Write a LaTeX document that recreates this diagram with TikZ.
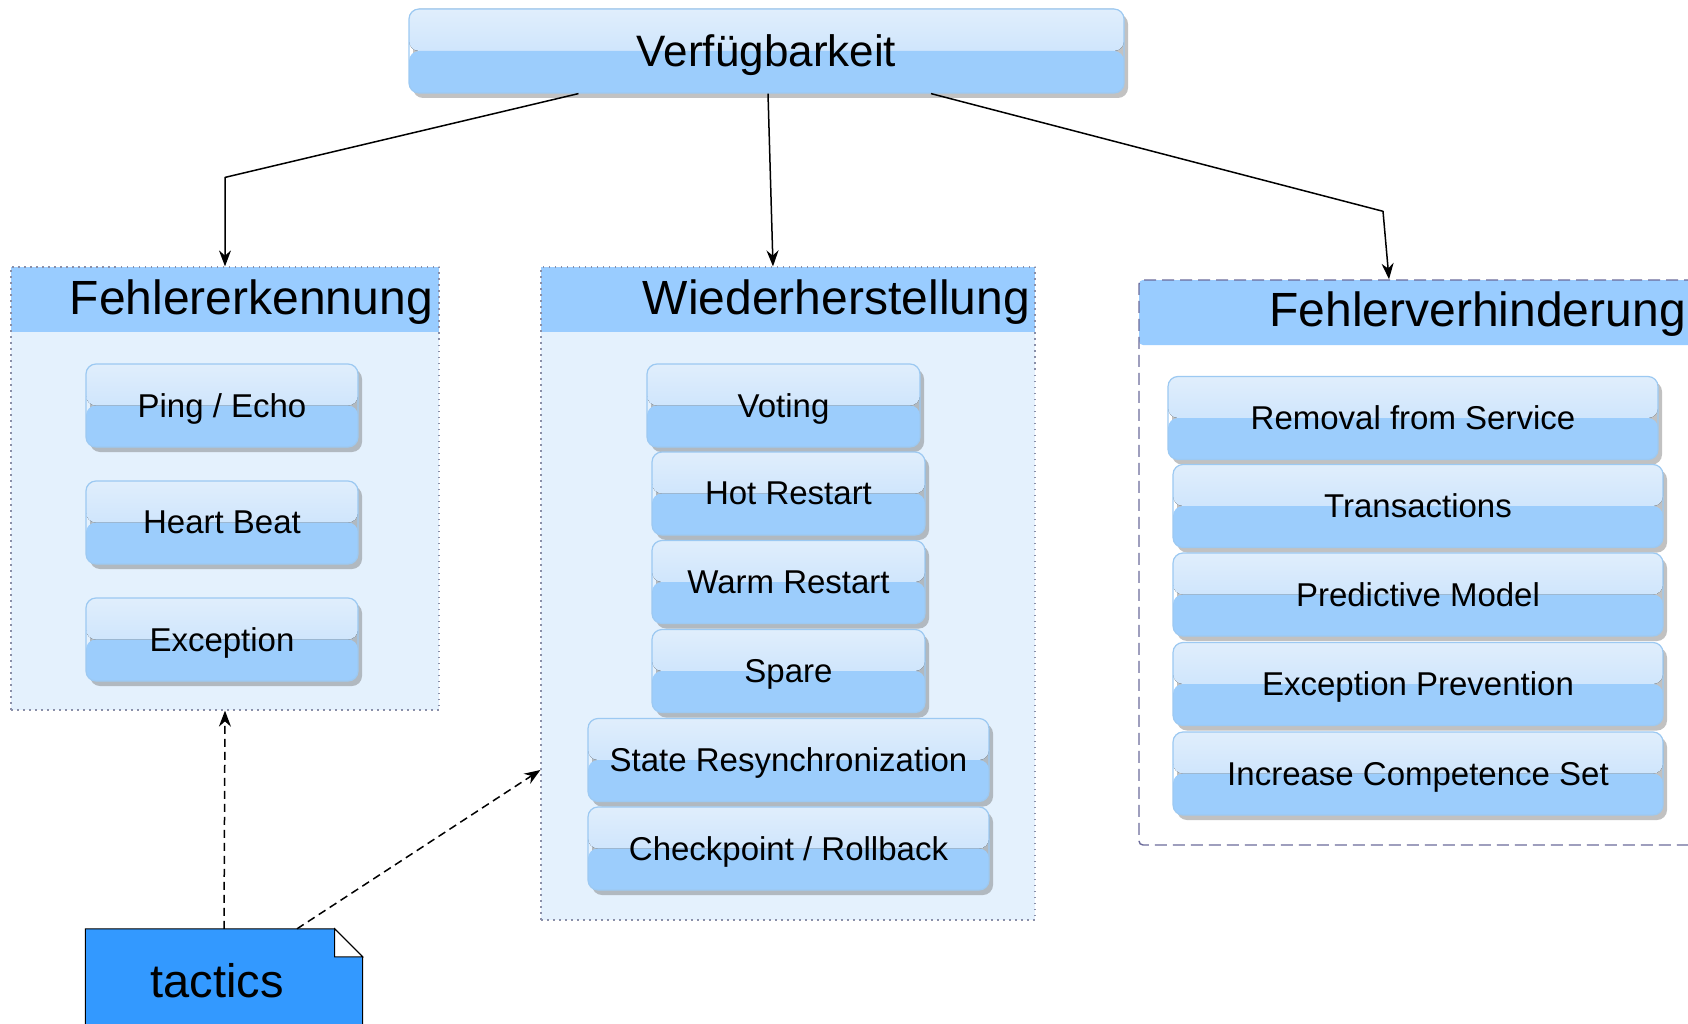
\documentclass[tikz,border=0pt]{standalone}
\usepackage{fontspec}
\setmainfont{Liberation Sans}
\usetikzlibrary{arrows.meta}
\usetikzlibrary{shadows}
\usetikzlibrary{backgrounds}

\definecolor{glosstop}{HTML}{E0EEFC}
\definecolor{glossmid}{HTML}{BFDDFB}
\definecolor{glosslow}{HTML}{9CCDFC}
\definecolor{glossline}{HTML}{9CC9F2}
\definecolor{headblue}{HTML}{99CCFF}
\definecolor{groupfill}{HTML}{E4F1FD}
\definecolor{groupline}{HTML}{8A8FA8}
\definecolor{dashline}{HTML}{6B6B9B}
\definecolor{noteblue}{HTML}{3399FF}

\tikzset{
	tactic/.style={rectangle, rounded corners=10pt, draw=glossline, line width=1.2pt,
		minimum width=273pt, minimum height=83pt, text depth=0pt, font=\fontsize{33}{40}\selectfont,
		drop shadow={shadow xshift=4pt, shadow yshift=-5pt, fill=black!60, opacity=.4},
		path picture={
			\fill[top color=glosstop, bottom color=glossmid] (path picture bounding box.north west) rectangle (path picture bounding box.east);
			\fill[glosslow] (path picture bounding box.west) rectangle (path picture bounding box.south east);
		}},
	groupbox/.style={rectangle, fill=groupfill, draw=groupline, line width=1.2pt, dash pattern=on 1.5pt off 4.5pt,
		path picture={\fill[headblue] (path picture bounding box.north west) rectangle ([yshift=-65pt]path picture bounding box.north east);}},
	grouptitle/.style={anchor=east, inner sep=0pt, font=\fontsize{48}{56}\selectfont}
}

\begin{document}
\begin{tikzpicture}[line join=round,>={Stealth[length=16pt,width=12pt]},x=1pt,y=-1pt]

		\useasboundingbox (0,0) rectangle (1688,1024);

		% pääsolmu
		\node[tactic, minimum width=715pt, minimum height=84pt, font=\fontsize{44}{52}\selectfont] (avail) at (766.5,51) {Verfügbarkeit};

		% ryhmät ja otsikot
		\node[groupbox, minimum width=428pt, minimum height=443pt] (detect) at (225,488.5) {};
		\node[grouptitle] (detecttitle) at (433,302) {Fehlererkennung};

		\node[groupbox, minimum width=494pt, minimum height=653pt] (recover) at (788,593.5) {};
		\node[grouptitle] (recovertitle) at (1030,302) {Wiederherstellung};

		\node[groupbox, fill=white, draw=dashline, line width=1.4pt, dash pattern=on 12pt off 6pt, rounded corners=4pt,
			minimum width=561pt, minimum height=565pt] (prevent) at (1419.5,562.5) {};
		\node[grouptitle] (preventtitle) at (1686,314) {Fehlerverhinderung};

		% taktiikat
		\foreach \t [count=\i] in {Ping / Echo, Heart Beat, Exception}
		{
		\node[tactic, minimum width=272pt] (det\i) at (222,288.5+117*\i) {\t};
		}

		\node[tactic] (voting) at (783.5,405.5) {Voting};
		\node[tactic] (hot) at (788.5,493.5) {Hot Restart};
		\node[tactic] (warm) at (788.5,582) {Warm Restart};
		\node[tactic] (spare) at (788.5,671) {Spare};
		\node[tactic, minimum width=401pt] (resync) at (788.5,760) {State Resynchronization};
		\node[tactic, minimum width=401pt] (rollback) at (788.5,848.5) {Checkpoint / Rollback};

		\node[tactic, minimum width=490pt] (removal) at (1413,418) {Removal from Service};
		\node[tactic, minimum width=490pt] (trans) at (1418,506) {Transactions};
		\node[tactic, minimum width=490pt] (predict) at (1418,594.5) {Predictive Model};
		\node[tactic, minimum width=490pt] (exprev) at (1418,684) {Exception Prevention};
		\node[tactic, minimum width=490pt] (compet) at (1418,773.5) {Increase Competence Set};

		% muistilappu
		\node[minimum width=277pt, minimum height=104pt, font=\fontsize{47}{56}\selectfont] (note) at (224,981) {tactics\hspace*{14pt}};
		\begin{scope}[on background layer]
		\filldraw[fill=noteblue, draw=black, line width=1pt] (note.south west) -- (note.north west) -- ([xshift=-28pt]note.north east)
			-- ([yshift=-28pt]note.north east) -- (note.south east) -- cycle;
		\filldraw[fill=white, draw=black, line width=1pt] ([xshift=-28pt]note.north east) -- ([xshift=-28pt,yshift=-28pt]note.north east)
			-- ([yshift=-28pt]note.north east) -- cycle;
		\end{scope}

		% nuolet
		\draw[->, line width=1.5pt] ([xshift=-188pt]avail.south) -- ([yshift=89pt]detect.north) -- (detect.north);
		\draw[->, line width=1.5pt] ([xshift=1.5pt]avail.south) -- ([xshift=-15pt]recover.north);
		\draw[->, line width=1.5pt] ([xshift=164.5pt]avail.south) -- ([xshift=-36.5pt,yshift=68pt]prevent.north) -- ([xshift=-30.5pt]prevent.north);

		\draw[->, line width=1.5pt, dash pattern=on 8pt off 5pt] (note.north) -- (detect.south);
		\draw[->, line width=1.5pt, dash pattern=on 8pt off 5pt] ([xshift=73pt]note.north) -- ([yshift=-176.5pt]recover.west);

	\end{tikzpicture}
\end{document}
